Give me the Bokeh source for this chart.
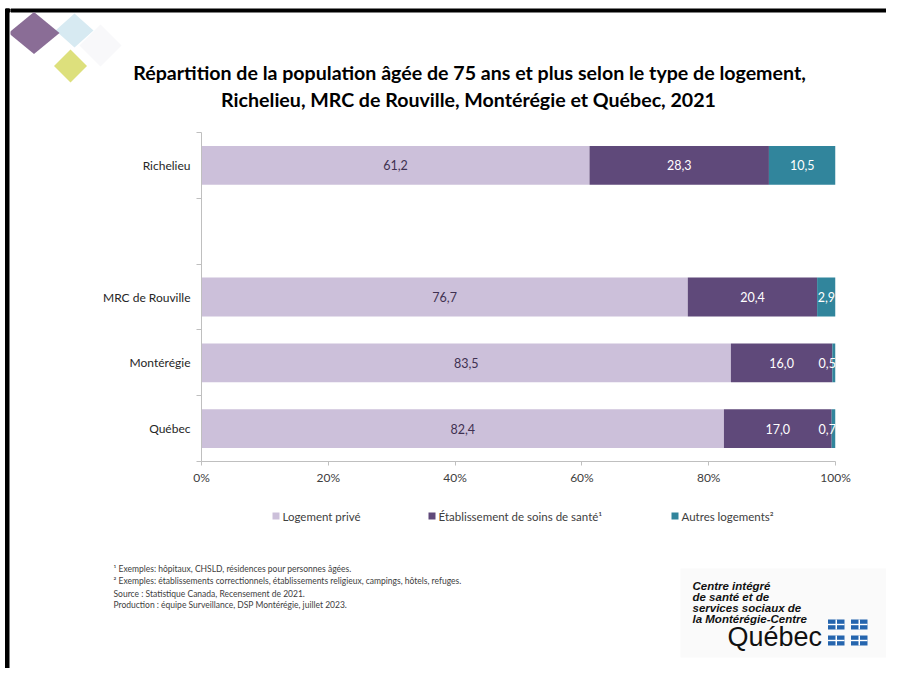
from bokeh.plotting import figure
from bokeh.layouts import row, column
from bokeh.models import (ColumnDataSource, FixedTicker, PrintfTickFormatter, Range1d)
from bokeh.embed import file_html
from bokeh.resources import INLINE
from bokeh.core.properties import value

# ---------------- data ----------------
categories = ["Richelieu", "", "MRC de Rouville", "Montérégie", "Québec"]
series_names = ["Logement privé", "Établissement de soins de santé¹", "Autres logements²"]
logement_prive = [61.2, None, 76.7, 83.5, 82.4]
etablissement_sante = [28.3, None, 20.4, 16.0, 17.0]
autres_logements = [10.5, None, 2.9, 0.5, 0.7]
x_ticks = [0, 20, 40, 60, 80, 100]

title_lines = ["Répartition de la population âgée de 75 ans et plus selon le type de logement,",
               "Richelieu, MRC de Rouville, Montérégie et Québec, 2021"]
footnotes = ["¹ Exemples: hôpitaux, CHSLD, résidences pour personnes âgées.",
             "² Exemples: établissements correctionnels, établissements religieux, campings, hôtels, refuges.",
             "Source : Statistique Canada, Recensement de 2021.",
             "Production : équipe Surveillance, DSP Montérégie, juillet 2023."]
logo_lines = ["Centre intégré", "de santé et de", "services sociaux de", "la Montérégie-Centre"]
logo_word = "Québec"

# ---------------- style / layout ----------------
colors = ["#CCC0DA", "#5F497A", "#31859C"]
label_colors = ["#3F3151", "#FFFFFF", "#FFFFFF"]
FONT = "Lato"
TXT = "#404040"

W, H = 886, 668
LB = 10                    # width of the left strip holding the slide border
CW = W - LB                # width of the main column
FL, FR, FT, FB = 201, 835, 132, 461   # plot frame (page px)
CHART_BOTTOM = 500


def deco_fig(w, h, x0, x1, y0, y1):
    f = figure(width=w, height=h, output_backend="svg", toolbar_location=None,
               x_range=Range1d(x0, x1), y_range=Range1d(y1, y0),
               x_axis_location=None, y_axis_location=None, min_border=0,
               frame_align=False)
    f.grid.visible = False
    f.outline_line_color = None
    f.background_fill_color = "white"
    f.border_fill_color = "white"
    return f


# ---------------- left strip (slide border) ----------------
left = deco_fig(LB, H, 0, LB, 0, H)
left.quad(left=[5], right=[8.5], top=[8.5], bottom=[H], color="black")
left.quad(left=[5], right=[LB], top=[8.5], bottom=[11.5], color="black")

# ---------------- header ----------------
head = deco_fig(CW, FT, LB, W, 0, FT)
head.quad(left=[LB], right=[W], top=[8.5], bottom=[11.5], color="black")
# decorative diamonds (cx, cy, half-width, half-height)
dia = [(100, 45, 21, 21, "#F8F8FA"), (74, 30, 19, 17, "#D7EAF2"),
       (33.5, 32.5, 25.5, 21, "#8A6D96"), (70, 65.5, 16.5, 16.5, "#DDE07C")]
head.patches(xs=[[cx - hw, cx, cx + hw, cx] for cx, cy, hw, hh, c in dia],
             ys=[[cy, cy - hh, cy, cy + hh] for cx, cy, hw, hh, c in dia],
             fill_color=[d[4] for d in dia], line_color=None)
head.text(x=[469, 468], y=[72, 99], text=title_lines, text_align="center",
          text_baseline="middle", text_font=value(FONT), text_font_style="bold",
          text_font_size="19.6px", text_color="#000000")

# ---------------- chart ----------------
n = len(categories)
keys = ["prive", "sante", "autres"]
series = [logement_prive, etablissement_sante, autres_logements]
data = {"y": []}
for k in keys:
    data[k] = []
lab = {"x": [], "y": [], "text": [], "color": []}
for i, c in enumerate(categories):
    if logement_prive[i] is None:
        continue
    yc = n - i - 0.5
    data["y"].append(yc)
    start = 0.0
    for j, k in enumerate(keys):
        v = series[j][i]
        data[k].append(v)
        mid = start + v / 2
        if j == 2:
            mid = min(mid, 98.7)
        lab["x"].append(mid)
        lab["y"].append(yc)
        lab["text"].append(f"{v:.1f}".replace(".", ","))
        lab["color"].append(label_colors[j])
        start += v

p = figure(width=CW, height=CHART_BOTTOM - FT, output_backend="svg", toolbar_location=None,
           x_range=Range1d(0, 100), y_range=Range1d(0, n), frame_align=False,
           min_border_left=FL - LB, min_border_right=W - FR,
           min_border_top=0, min_border_bottom=CHART_BOTTOM - FB)
p.outline_line_color = None
p.grid.visible = False
p.background_fill_color = "white"
p.border_fill_color = "white"

src = ColumnDataSource(data)
p.hbar_stack(keys, y="y", height=0.59, color=colors, line_color=None, source=src)
p.text(x="x", y="y", text="text", text_color="color", source=ColumnDataSource(lab),
       text_align="center", text_baseline="middle",
       text_font=value(FONT), text_font_size="12.5px")

xa = p.xaxis[0]
xa.ticker = FixedTicker(ticks=x_ticks)
xa.formatter = PrintfTickFormatter(format="%d%%")
xa.axis_line_color = "#BFBFBF"
xa.major_tick_line_color = "#BFBFBF"
xa.major_tick_out = 4
xa.major_tick_in = 0
xa.minor_tick_line_color = None
xa.major_label_text_font = FONT
xa.major_label_text_font_size = "12px"
xa.major_label_text_color = TXT
xa.major_label_standoff = 4

ya = p.yaxis[0]
centers = [n - i - 0.5 for i in range(n)]
ya.ticker = FixedTicker(ticks=centers, minor_ticks=list(range(n + 1)))
ya.major_label_overrides = {c: categories[i] for i, c in enumerate(centers)}
ya.axis_line_color = "#BFBFBF"
ya.major_tick_out = 0
ya.major_tick_in = 0
ya.minor_tick_out = 5
ya.minor_tick_in = 0
ya.minor_tick_line_color = "#BFBFBF"
ya.major_label_text_font = FONT
ya.major_label_text_font_size = "12px"
ya.major_label_text_color = "#262626"
ya.major_label_standoff = 6

# ---------------- footer ----------------
foot = deco_fig(CW, H - CHART_BOTTOM, LB, W, CHART_BOTTOM, H)
# legend
leg_x = [272, 428, 671]
foot.quad(left=leg_x, right=[x + 7 for x in leg_x], top=[512] * 3, bottom=[519] * 3,
          fill_color=colors, line_color=None)
foot.text(x=[x + 10 for x in leg_x], y=[515.5] * 3, text=series_names, text_align="left",
          text_baseline="middle", text_font=value(FONT), text_font_size="11.5px", text_color=TXT)
# footnotes
foot.text(x=[113] * 4, y=[568, 580, 593, 604], text=footnotes, text_align="left",
          text_baseline="middle", text_font=value(FONT), text_font_size="8.5px", text_color=TXT)
# logo
foot.quad(left=[680], right=[886], top=[568], bottom=[657], fill_color="#FAFAFA", line_color=None)
foot.text(x=[692] * 4, y=[585, 596, 607, 618], text=logo_lines, text_align="left",
          text_baseline="middle", text_font=value("Liberation Sans"),
          text_font_style="bold italic", text_font_size="11.5px", text_color="#111111")
foot.text(x=[727], y=[636], text=[logo_word], text_align="left", text_baseline="middle",
          text_font=value("Liberation Sans"), text_font_size="27px", text_color="#111111")
fl = [827.5, 850.5, 827.5, 850.5]
ft = [619, 619, 635, 635]
foot.quad(left=fl, right=[x + 16.5 for x in fl], top=ft, bottom=[y + 10 for y in ft],
          fill_color="#2565AE", line_color=None)
foot.quad(left=[x + 7.5 for x in fl], right=[x + 9 for x in fl], top=ft,
          bottom=[y + 10 for y in ft], fill_color="white", line_color=None)
foot.quad(left=fl, right=[x + 16.5 for x in fl], top=[y + 4.3 for y in ft],
          bottom=[y + 5.7 for y in ft], fill_color="white", line_color=None)

layout = row(left, column(head, p, foot, spacing=0), spacing=0)
open("out.html", "w").write(file_html(layout, INLINE))
